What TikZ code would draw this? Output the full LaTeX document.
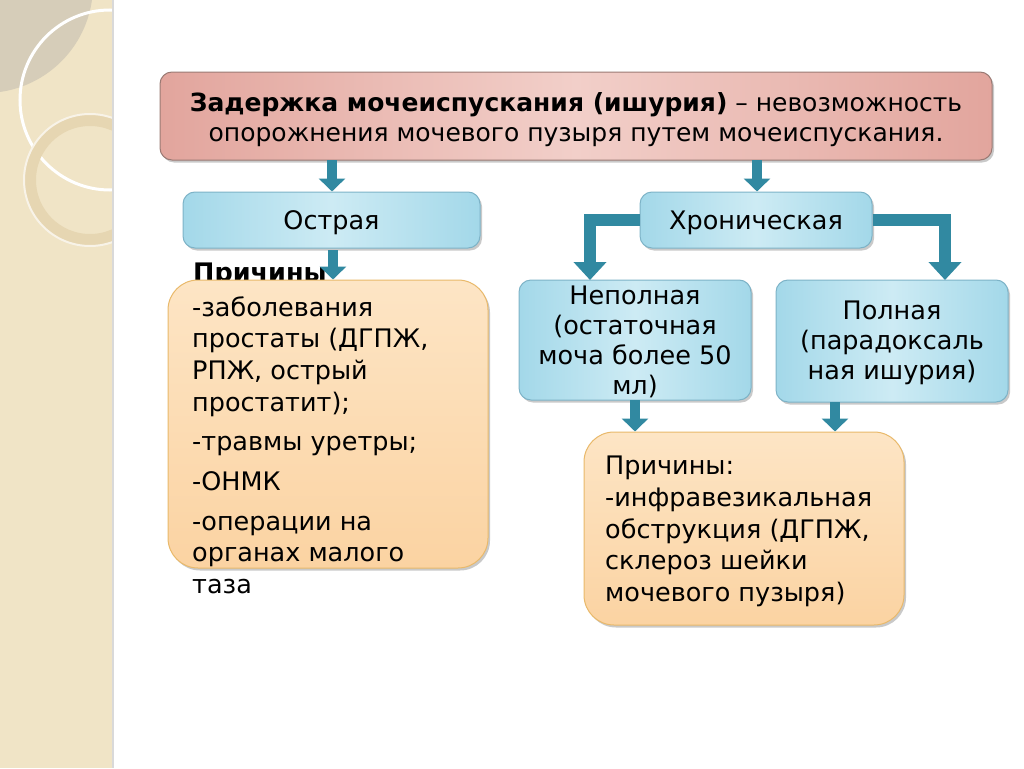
\documentclass[tikz,border=0pt]{standalone}
\usepackage{fontspec}
\setmainfont{DejaVu Sans}
\usetikzlibrary{shadows,arrows.meta,calc}
\definecolor{stripc}{HTML}{F0E4C6}
\definecolor{stripgray}{HTML}{D6CDB9}
\definecolor{ringc}{HTML}{E6D6B2}
\definecolor{pinkc}{HTML}{E2A59D}
\definecolor{pinkm}{HTML}{F2CFC9}
\definecolor{pinkb}{HTML}{9A7A74}
\definecolor{bluec}{HTML}{A3D8E9}
\definecolor{bluem}{HTML}{CDEBF4}
\definecolor{blueb}{HTML}{7DB3C7}
\definecolor{peachc}{HTML}{FBD3A2}
\definecolor{peachm}{HTML}{FDE5C5}
\definecolor{peachb}{HTML}{E9B96A}
\definecolor{arrowc}{HTML}{3189A1}
\tikzset{
  box/.style={rounded corners=12pt, line width=1pt, inner sep=0pt,
    drop shadow={shadow xshift=2pt, shadow yshift=-2.5pt, opacity=0.35, fill=black!60}},
  pinkbox/.style={box, draw=pinkb, left color=pinkc, right color=pinkc, middle color=pinkm},
  bluebox/.style={box, draw=blueb, left color=bluec, right color=bluec, middle color=bluem},
  peachbox/.style={box, rounded corners=30pt, draw=peachb, top color=peachm, bottom color=peachc},
  txt/.style={font=\fontsize{25.5}{30}\selectfont, align=center, inner sep=0pt},
  ltxt/.style={font=\fontsize{25.5}{31.7}\selectfont, align=left, inner sep=0pt, anchor=north west},
  blk/.style={draw=arrowc, line width=10pt, -{Triangle[width=26pt,length=13pt]}},
  bblk/.style={draw=arrowc, line width=12pt, -{Triangle[width=32pt,length=18pt]}}
}
\begin{document}
\begin{tikzpicture}[x=1pt,y=-1pt]
\useasboundingbox (0,0) rectangle (1024,768);
\fill[white] (0,0) rectangle (1024,768);
% left decorative strip
\begin{scope}
\clip (0,0) rectangle (112,768);
\fill[stripc] (0,0) rectangle (112,768);
\fill[stripgray] (-15,-15) circle (108pt);
\draw[white, line width=3pt] (110,100) circle (90pt);
\draw[ringc, line width=12pt] (90,180) circle (60pt);
\draw[white!70!ringc, line width=2pt] (90,180) circle (66pt);
\end{scope}
\draw[black!15, line width=1.5pt] (113,0) -- (113,768);

% boxes
\node[pinkbox, minimum width=832pt, minimum height=88pt] (hdr) at (576,116) {};
\node[bluebox, minimum width=297pt, minimum height=56pt] (acute) at (331.5,220) {};
\node[txt] at ($(acute)+(0,3)$) {Острая};
\node[bluebox, minimum width=232pt, minimum height=56pt] (chron) at (756,220) {};
\node[txt] at ($(chron)+(0,3)$) {Хроническая};
\node[bluebox, minimum width=232pt, minimum height=120pt] (incomp) at (635,340) {};
\node[txt] at ($(incomp)+(0,2)$) {Неполная\\(остаточная\\моча более 50\\мл)};
\node[bluebox, minimum width=232pt, minimum height=122pt] (full) at (892,341) {};
\node[txt] at ($(full)+(0,2)$) {Полная\\(парадоксаль\\ная ишурия)};

\node[anchor=base west, inner sep=0pt, font=\fontsize{25.5}{28}\selectfont\bfseries] (prich) at (193,281) {Причины};
\node[peachbox, minimum width=320pt, minimum height=288pt] (lbox) at (328,424) {};
\node[peachbox, minimum width=320pt, minimum height=193pt] (rbox) at (744,528.5) {};

% texts
\node[txt, font=\fontsize{25}{30}\selectfont] (hdrtxt) at ($(hdr)+(0,4)$) {\textbf{Задержка мочеиспускания (ишурия)} – невозможность\\опорожнения мочевого пузыря путем мочеиспускания.};
\node[ltxt] (ltext) at (192,296) {-заболевания\\простаты (ДГПЖ,\\РПЖ, острый\\простатит);\\[8pt]-травмы уретры;\\[8pt]-ОНМК\\[8pt]-операции на\\органах малого\\таза};
\node[ltxt] (rtext) at (605,456) {Причины:\\-инфравезикальная\\обструкция (ДГПЖ,\\склероз шейки\\мочевого пузыря)};

% arrows
\coordinate (a1) at (332,160);
\coordinate (a2) at (757,160);
\draw[blk] (a1) -- (a1 |- acute.north);
\draw[blk] (a2) -- (a2 |- chron.north);
\coordinate (a3) at (333,250);
\draw[blk] (a3) -- (a3 |- lbox.north);
\coordinate (b1) at (590,280);
\coordinate (b2) at (945,280);
\draw[bblk] (chron.west) -| (b1);
\draw[bblk] (chron.east) -| (b2);
\coordinate (c1) at (635,400);
\coordinate (c2) at (835,402);
\draw[blk] (c1) -- (c1 |- rbox.north);
\draw[blk] (c2) -- (c2 |- rbox.north);
\end{tikzpicture}
\end{document}
